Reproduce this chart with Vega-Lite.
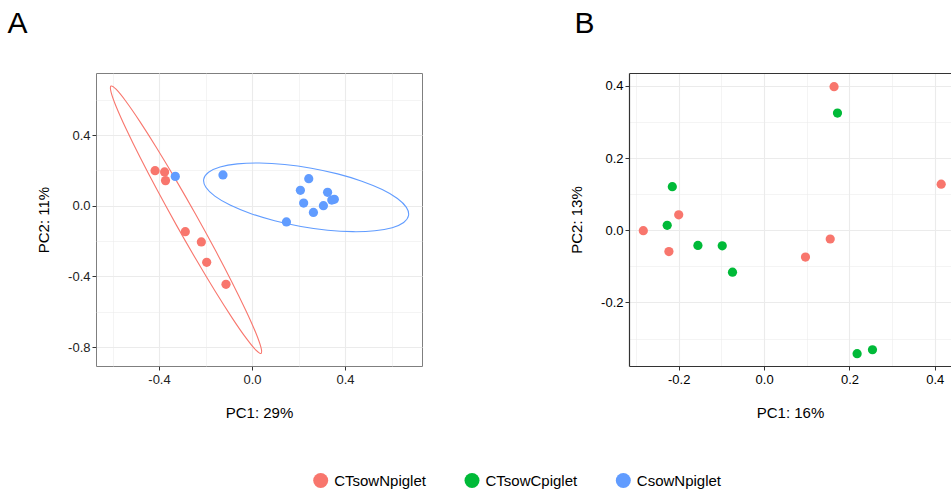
{
  "$schema": "https://vega.github.io/schema/vega-lite/v6.json",
  "padding": {"left": 7, "top": 8, "right": 0, "bottom": 0},
  "config": {
    "font": "Liberation Sans",
    "view": {"stroke": null},
    "title": {"font": "Liberation Sans", "fontSize": 30, "fontWeight": "normal", "color": "#000", "anchor": "start", "frame": "bounds", "offset": 34},
    "axis": {"labelFont": "Liberation Sans", "titleFont": "Liberation Sans", "labelFontSize": 13, "titleFontSize": 15, "titleFontWeight": "normal", "titleColor": "#000", "tickSize": 4, "tickWidth": 1, "gridColor": "#ebebeb", "labelFlush": false, "labelOverlap": false}
  },
  "datasets": {
    "pointsA": [
      {"group": "CTsowNpiglet", "x": -0.417, "y": 0.198},
      {"group": "CTsowNpiglet", "x": -0.376, "y": 0.191},
      {"group": "CTsowNpiglet", "x": -0.372, "y": 0.142},
      {"group": "CTsowNpiglet", "x": -0.287, "y": -0.147},
      {"group": "CTsowNpiglet", "x": -0.218, "y": -0.205},
      {"group": "CTsowNpiglet", "x": -0.195, "y": -0.320},
      {"group": "CTsowNpiglet", "x": -0.112, "y": -0.445},
      {"group": "CsowNpiglet", "x": -0.330, "y": 0.166},
      {"group": "CsowNpiglet", "x": -0.125, "y": 0.174},
      {"group": "CsowNpiglet", "x": 0.244, "y": 0.153},
      {"group": "CsowNpiglet", "x": 0.208, "y": 0.087},
      {"group": "CsowNpiglet", "x": 0.325, "y": 0.076},
      {"group": "CsowNpiglet", "x": 0.354, "y": 0.036},
      {"group": "CsowNpiglet", "x": 0.343, "y": 0.032},
      {"group": "CsowNpiglet", "x": 0.222, "y": 0.015},
      {"group": "CsowNpiglet", "x": 0.307, "y": 0.0},
      {"group": "CsowNpiglet", "x": 0.264, "y": -0.038},
      {"group": "CsowNpiglet", "x": 0.148, "y": -0.092}
    ],
    "ellipses": [
      {"group": "CTsowNpiglet", "t": 0, "x": 0.0387, "y": -0.8357},
      {"group": "CTsowNpiglet", "t": 15, "x": 0.0384, "y": -0.8020},
      {"group": "CTsowNpiglet", "t": 30, "x": 0.0162, "y": -0.7190},
      {"group": "CTsowNpiglet", "t": 45, "x": -0.0266, "y": -0.5926},
      {"group": "CTsowNpiglet", "t": 60, "x": -0.0868, "y": -0.4310},
      {"group": "CTsowNpiglet", "t": 75, "x": -0.1605, "y": -0.2455},
      {"group": "CTsowNpiglet", "t": 90, "x": -0.2426, "y": -0.0487},
      {"group": "CTsowNpiglet", "t": 105, "x": -0.3275, "y": 0.1461},
      {"group": "CTsowNpiglet", "t": 120, "x": -0.4094, "y": 0.3254},
      {"group": "CTsowNpiglet", "t": 135, "x": -0.4828, "y": 0.4772},
      {"group": "CTsowNpiglet", "t": 150, "x": -0.5426, "y": 0.5910},
      {"group": "CTsowNpiglet", "t": 165, "x": -0.5848, "y": 0.6592},
      {"group": "CTsowNpiglet", "t": 180, "x": -0.6065, "y": 0.6771},
      {"group": "CTsowNpiglet", "t": 195, "x": -0.6062, "y": 0.6434},
      {"group": "CTsowNpiglet", "t": 210, "x": -0.5840, "y": 0.5604},
      {"group": "CTsowNpiglet", "t": 225, "x": -0.5412, "y": 0.4340},
      {"group": "CTsowNpiglet", "t": 240, "x": -0.4810, "y": 0.2724},
      {"group": "CTsowNpiglet", "t": 255, "x": -0.4073, "y": 0.0869},
      {"group": "CTsowNpiglet", "t": 270, "x": -0.3252, "y": -0.1099},
      {"group": "CTsowNpiglet", "t": 285, "x": -0.2403, "y": -0.3047},
      {"group": "CTsowNpiglet", "t": 300, "x": -0.1584, "y": -0.4840},
      {"group": "CTsowNpiglet", "t": 315, "x": -0.0850, "y": -0.6358},
      {"group": "CTsowNpiglet", "t": 330, "x": -0.0252, "y": -0.7496},
      {"group": "CTsowNpiglet", "t": 345, "x": 0.0170, "y": -0.8178},
      {"group": "CsowNpiglet", "t": 0, "x": 0.6731, "y": -0.0555},
      {"group": "CsowNpiglet", "t": 15, "x": 0.6523, "y": -0.0947},
      {"group": "CsowNpiglet", "t": 30, "x": 0.6029, "y": -0.1242},
      {"group": "CsowNpiglet", "t": 45, "x": 0.5283, "y": -0.1419},
      {"group": "CsowNpiglet", "t": 60, "x": 0.4336, "y": -0.1468},
      {"group": "CsowNpiglet", "t": 75, "x": 0.3252, "y": -0.1385},
      {"group": "CsowNpiglet", "t": 90, "x": 0.2104, "y": -0.1174},
      {"group": "CsowNpiglet", "t": 105, "x": 0.0972, "y": -0.0851},
      {"group": "CsowNpiglet", "t": 120, "x": -0.0068, "y": -0.0438},
      {"group": "CsowNpiglet", "t": 135, "x": -0.0945, "y": 0.0037},
      {"group": "CsowNpiglet", "t": 150, "x": -0.1599, "y": 0.0542},
      {"group": "CsowNpiglet", "t": 165, "x": -0.1985, "y": 0.1043},
      {"group": "CsowNpiglet", "t": 180, "x": -0.2077, "y": 0.1505},
      {"group": "CsowNpiglet", "t": 195, "x": -0.1869, "y": 0.1897},
      {"group": "CsowNpiglet", "t": 210, "x": -0.1375, "y": 0.2192},
      {"group": "CsowNpiglet", "t": 225, "x": -0.0629, "y": 0.2369},
      {"group": "CsowNpiglet", "t": 240, "x": 0.0318, "y": 0.2418},
      {"group": "CsowNpiglet", "t": 255, "x": 0.1402, "y": 0.2335},
      {"group": "CsowNpiglet", "t": 270, "x": 0.2550, "y": 0.2124},
      {"group": "CsowNpiglet", "t": 285, "x": 0.3682, "y": 0.1801},
      {"group": "CsowNpiglet", "t": 300, "x": 0.4722, "y": 0.1388},
      {"group": "CsowNpiglet", "t": 315, "x": 0.5599, "y": 0.0913},
      {"group": "CsowNpiglet", "t": 330, "x": 0.6253, "y": 0.0408},
      {"group": "CsowNpiglet", "t": 345, "x": 0.6639, "y": -0.0093}
    ],
    "pointsB": [
      {"group": "CTsowNpiglet", "x": 0.164, "y": 0.398},
      {"group": "CTsowNpiglet", "x": 0.415, "y": 0.128},
      {"group": "CTsowNpiglet", "x": -0.200, "y": 0.043},
      {"group": "CTsowNpiglet", "x": -0.283, "y": -0.001},
      {"group": "CTsowNpiglet", "x": -0.223, "y": -0.059},
      {"group": "CTsowNpiglet", "x": 0.155, "y": -0.024},
      {"group": "CTsowNpiglet", "x": 0.097, "y": -0.074},
      {"group": "CTsowCpiglet", "x": 0.172, "y": 0.325},
      {"group": "CTsowCpiglet", "x": -0.215, "y": 0.121},
      {"group": "CTsowCpiglet", "x": -0.227, "y": 0.014},
      {"group": "CTsowCpiglet", "x": -0.155, "y": -0.042},
      {"group": "CTsowCpiglet", "x": -0.098, "y": -0.043},
      {"group": "CTsowCpiglet", "x": -0.074, "y": -0.116},
      {"group": "CTsowCpiglet", "x": 0.218, "y": -0.342},
      {"group": "CTsowCpiglet", "x": 0.254, "y": -0.331}
    ],
    "legendItems": [
      {"group": "CTsowNpiglet"},
      {"group": "CTsowCpiglet"},
      {"group": "CsowNpiglet"}
    ]
  },
  "spacing": 52,
  "resolve": {"scale": {"color": "shared"}},
  "vconcat": [
    {
      "spacing": 146,
      "hconcat": [
        {
          "width": 326,
          "height": 293,
          "view": {"stroke": "#7f7f7f", "strokeWidth": 1},
          "title": {"text": "A", "dx": -29},
          "layer": [
            {
              "data": {"name": "ellipses"},
              "mark": {"type": "line", "interpolate": "cardinal-closed", "strokeWidth": 1.1},
              "encoding": {
                "x": {"field": "x", "type": "quantitative", "scale": {"domain": [-0.671, 0.731], "nice": false, "zero": false}},
                "y": {"field": "y", "type": "quantitative", "scale": {"domain": [-0.907, 0.751], "nice": false, "zero": false}},
                "order": {"field": "t", "type": "quantitative"},
                "stroke": {"field": "group", "type": "nominal", "legend": null, "scale": {"domain": ["CTsowNpiglet", "CTsowCpiglet", "CsowNpiglet"], "range": ["#F8766D", "#00BA38", "#619CFF"]}}
              }
            },
            {
              "data": {"name": "pointsA"},
              "mark": {"type": "point", "filled": true, "opacity": 1, "size": 85},
              "encoding": {
                "x": {"field": "x", "type": "quantitative", "axis": {
                  "values": [-0.6, -0.4, -0.2, 0, 0.2, 0.4, 0.6],
                  "labelExpr": "round(datum.value*10)%4==0 ? (datum.value<0 ? '-' : '') + format(abs(datum.value), '.1f') : ''",
                  "tickColor": {"condition": {"test": "round(datum.value*10)%4!=0", "value": "transparent"}, "value": "#333333"},
                  "gridWidth": {"condition": {"test": "round(datum.value*10)%4==0", "value": 1.1}, "value": 0.55},
                  "domain": false, "labelPadding": 3, "labelColor": "#222222", "title": "PC1: 29%", "titlePadding": 19
                }},
                "y": {"field": "y", "type": "quantitative", "axis": {
                  "values": [-0.8, -0.6, -0.4, -0.2, 0, 0.2, 0.4, 0.6],
                  "labelExpr": "round(datum.value*10)%4==0 ? (datum.value<0 ? '-' : '') + format(abs(datum.value), '.1f') : ''",
                  "tickColor": {"condition": {"test": "round(datum.value*10)%4!=0", "value": "transparent"}, "value": "#333333"},
                  "gridWidth": {"condition": {"test": "round(datum.value*10)%4==0", "value": 1.1}, "value": 0.55},
                  "domain": false, "labelPadding": 2, "labelColor": "#222222", "title": "PC2: 11%", "titlePadding": 16
                }},
                "color": {"field": "group", "type": "nominal", "legend": null, "scale": {"domain": ["CTsowNpiglet", "CTsowCpiglet", "CsowNpiglet"], "range": ["#F8766D", "#00BA38", "#619CFF"]}}
              }
            }
          ]
        },
        {
          "width": 322,
          "height": 293,
          "title": {"text": "B", "dx": 5},
          "resolve": {"axis": {"x": "independent"}},
          "layer": [
            {
              "data": {"name": "pointsB"},
              "mark": {"type": "point", "filled": true, "opacity": 1, "size": 85},
              "encoding": {
                "x": {"field": "x", "type": "quantitative", "scale": {"domain": [-0.3165, 0.438], "nice": false, "zero": false}, "axis": {
                  "orient": "bottom",
                  "values": [-0.3, -0.2, -0.1, 0, 0.1, 0.2, 0.3, 0.4],
                  "labelExpr": "round(datum.value*10)%2==0 ? (datum.value<0 ? '-' : '') + format(abs(datum.value), '.1f') : ''",
                  "tickColor": {"condition": {"test": "round(datum.value*10)%2!=0", "value": "transparent"}, "value": "#333333"},
                  "gridWidth": {"condition": {"test": "round(datum.value*10)%2==0", "value": 1.1}, "value": 0.55},
                  "domain": true, "domainColor": "#333333", "domainWidth": 1.2, "labelPadding": 3, "labelColor": "#000", "title": "PC1: 16%", "titlePadding": 19
                }},
                "y": {"field": "y", "type": "quantitative", "scale": {"domain": [-0.376, 0.436], "nice": false, "zero": false}, "axis": {
                  "values": [-0.3, -0.2, -0.1, 0, 0.1, 0.2, 0.3, 0.4],
                  "labelExpr": "round(datum.value*10)%2==0 ? (datum.value<0 ? '-' : '') + format(abs(datum.value), '.1f') : ''",
                  "tickColor": {"condition": {"test": "round(datum.value*10)%2!=0", "value": "transparent"}, "value": "#333333"},
                  "gridWidth": {"condition": {"test": "round(datum.value*10)%2==0", "value": 1.1}, "value": 0.55},
                  "domain": true, "domainColor": "#333333", "domainWidth": 1.2, "labelPadding": 2, "labelColor": "#000", "title": "PC2: 13%", "titlePadding": 16
                }},
                "color": {"field": "group", "type": "nominal", "legend": null, "scale": {"domain": ["CTsowNpiglet", "CTsowCpiglet", "CsowNpiglet"], "range": ["#F8766D", "#00BA38", "#619CFF"]}}
              }
            },
            {
              "data": {"name": "pointsB"},
              "mark": {"type": "point", "opacity": 0},
              "encoding": {
                "x": {"field": "x", "type": "quantitative", "axis": {"orient": "top", "labels": false, "ticks": false, "grid": false, "domain": true, "domainColor": "#333333", "domainWidth": 1.2, "title": null}},
                "y": {"field": "y", "type": "quantitative"}
              }
            }
          ]
        }
      ]
    },
    {
      "width": 700,
      "height": 15,
      "data": {"name": "legendItems"},
      "layer": [
        {
          "mark": {"type": "point", "filled": true, "opacity": 1, "size": 225},
          "encoding": {
            "x": {"field": "group", "type": "nominal", "sort": null, "axis": null, "scale": {"type": "point", "padding": 0, "domain": ["CTsowNpiglet", "CTsowCpiglet", "CsowNpiglet"], "range": [224.7, 527.3]}},
            "color": {"field": "group", "type": "nominal", "legend": null, "scale": {"domain": ["CTsowNpiglet", "CTsowCpiglet", "CsowNpiglet"], "range": ["#F8766D", "#00BA38", "#619CFF"]}}
          }
        },
        {
          "mark": {"type": "text", "align": "left", "baseline": "middle", "dx": 13.5, "fontSize": 15, "font": "Liberation Sans", "color": "#000"},
          "encoding": {
            "x": {"field": "group", "type": "nominal", "sort": null, "axis": null},
            "text": {"field": "group", "type": "nominal"}
          }
        }
      ]
    }
  ]
}
